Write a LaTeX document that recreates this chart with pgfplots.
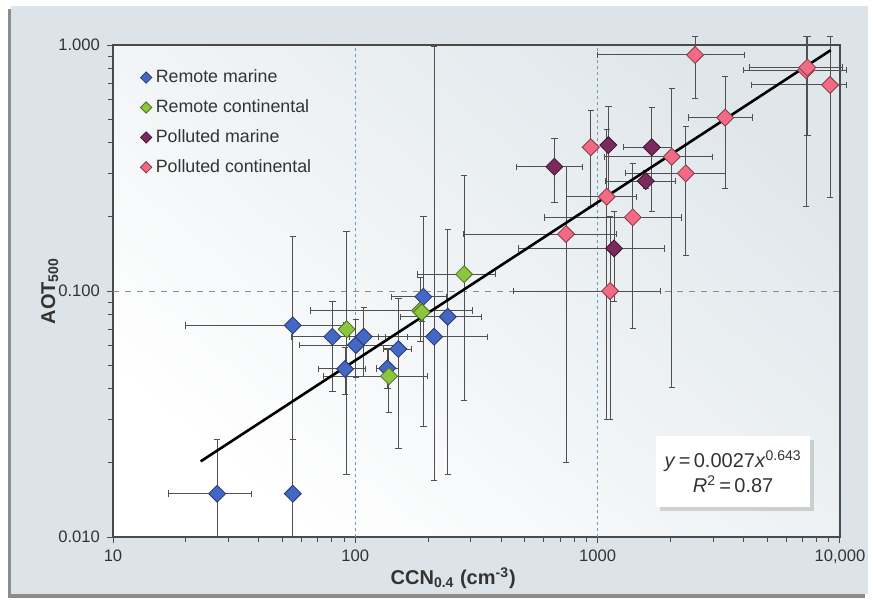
\documentclass[border=0pt]{standalone}
\usepackage{fontspec}
\setmainfont{Liberation Sans}
\usepackage{pgfplots}
\usepackage{pgfplotstable}
\pgfplotsset{compat=1.18}
\usetikzlibrary{shadows}

\definecolor{panel}{HTML}{DCE4E9}
\definecolor{plotbg}{HTML}{E0E7EB}
\definecolor{axisgray}{HTML}{4A4A4A}
\definecolor{textcol}{HTML}{333333}
\definecolor{barcol}{HTML}{505050}
\definecolor{gridblue}{HTML}{6B9BC0}
\definecolor{rmarine}{HTML}{4466C4}
\definecolor{rcont}{HTML}{8CC63F}
\definecolor{pmarine}{HTML}{7A2A5C}
\definecolor{pcont}{HTML}{F26A84}

% x y, then ends of the error bars
\pgfplotstableread{
x     y      xl     xh     yl     yh
26.9  0.015  17.0   37.2   0.01   0.025
55.2  0.015  55.2   55.2   0.01   0.025
55.2  0.0725 20.0   89     0.01   0.167
80.4  0.0652 54.3   163.5  0.039  0.091
90.7  0.0482 70.2   110.4  0.0381 0.0587
100.6 0.0603 59.1   153    0.0444 0.0767
108.3 0.0652 95     125    0.0451 0.0858
135.5 0.0485 122    150    0.040  0.0585
150.5 0.0581 130.5  171    0.023  0.0934
190.9 0.0948 141.3  238    0.0281 0.201
211.3 0.0652 132.6  350.5  0.0169 0.99
240.6 0.0786 153    332    0.0179 0.1787
}\remotemarine

\pgfplotstableread{
x     y      xl     xh     yl     yh
92.1  0.0699 92.1   92.1   0.0179 0.175
137.7 0.0451 73.6   199.5  0.0321 0.058
185   0.0832 65.5   305    0.0622 0.113
188   0.082  180    196    0.075  0.09
281   0.117  180.3  379    0.036  0.296
}\remotecont

\pgfplotstableread{
x     y      xl     xh     yl     yh
662.6 0.32   463.6  864.5  0.229  0.415
1107  0.392  1045   1170   0.24   0.565
1169  0.149  470.7  1885   0.0905 0.21
1579  0.28   1073   2086   0.262  0.31
1672  0.384  1276   2022   0.21   0.558
}\pollmarine

\pgfplotstableread{
x     y      xl     xh     yl     yh
740.6 0.1705 279    1199   0.0201 0.32
936.5 0.384  936.5  936.5  0.22   0.544
1090  0.2417 745.6  1450   0.030  0.454
1125  0.1    448.7  1809   0.030  0.2
1396  0.1993 602.6  2208   0.0705 0.330
2022  0.3515 1063   2974   0.0404 0.667
2310  0.301  1297   3357   0.14   0.4656
2523  0.911  1001   4018   0.607  1.088
3357  0.507  2366   4347   0.2615 0.743
7246  0.79   3991   10670  0.220  1.088
7336  0.81   4214   10270  0.427  1.088
9098  0.688  4325   10670  0.240  1.088
}\pollcont

\pgfplotsset{
  ebars/.style={
    only marks,
    mark=square*,
    mark size=3pt,
    mark options={rotate=45, draw=#1!55!black, line width=0.4pt, fill=#1},
    /pgfplots/error bars/x dir=both,
    /pgfplots/error bars/y dir=both,
    /pgfplots/error bars/x explicit,
    /pgfplots/error bars/y explicit,
    /pgfplots/error bars/error bar style={barcol, line width=0.5pt},
    /pgfplots/error bars/error mark options={rotate=90, barcol, mark size=1.6pt, line width=0.5pt},
  },
  /pgfplots/table/errtab/.style={x=x, y=y,
    x error plus expr=\thisrow{xh}-\thisrow{x},
    x error minus expr=\thisrow{x}-\thisrow{xl},
    y error plus expr=\thisrow{yh}-\thisrow{y},
    y error minus expr=\thisrow{y}-\thisrow{yl}},
}

\begin{document}
\begin{tikzpicture}[x=1pt,y=1pt]
\useasboundingbox (-56.5,-32.5) rectangle (380,268.5);
\fill[black!45] (-52.5,-30.5) rectangle (376,264);
\fill[panel] (-51,-28.5) rectangle (377.5,265.5);
\begin{axis}[
  at={(0,0)}, anchor=south west, scale only axis,
  width=363.5pt, height=246pt,
  xmode=log, ymode=log,
  xmin=10, xmax=10000, ymin=0.01, ymax=1,
  clip=false,
  axis background/.style={bottom color=white, top color=plotbg, shading angle=-40},
  xtick={10,100,1000,10000},
  xticklabels={10,100,1000,{10,000}},
  ytick={0.01,0.1,1},
  yticklabels={0.010,0.100,1.000},
  /pgf/number format/assume math mode=true,
  tick align=outside, tick pos=left,
  major tick length=3pt, minor tick length=2.5pt,
  every tick/.style={axisgray, line width=0.5pt},
  axis line style={axisgray, line width=0.7pt},
  ticklabel style={font=\fontsize{8.3}{10}\selectfont, text=textcol},
  label style={font=\fontsize{10}{12}\selectfont\bfseries, text=textcol},
  xlabel={CCN\textsubscript{0.4} (cm\textsuperscript{-3})},
  ylabel={AOT\textsubscript{500}},
  xlabel style={at={(axis description cs:0.468,-0.083)}, anchor=center},
  ylabel style={at={(axis description cs:-0.087,0.5)}, anchor=center},
  legend style={draw=none, fill=none, at={(0.029,0.967)}, anchor=north west,
    font=\fontsize{8.9}{10.5}\selectfont, text=textcol, row sep=3pt},
  legend cell align=left,
  legend image code/.code={\draw[mark repeat=2,mark phase=2,#1,mark size=2pt]
    plot coordinates {(0cm,0cm) (0.15cm,0cm) (0.36cm,0cm)};},
]
\draw[dash pattern=on 1.5pt off 1.5pt, gridblue, line width=0.5pt] (axis cs:100,0.01) -- (axis cs:100,1);
\draw[dash pattern=on 1.5pt off 1.5pt, gridblue, line width=0.5pt] (axis cs:1000,0.01) -- (axis cs:1000,1);
\draw[dashed, black!45, line width=0.5pt] (axis cs:10,0.1) -- (axis cs:10000,0.1);

\addplot[ebars=rmarine] table[errtab] {\remotemarine};
\addlegendentry{Remote marine}
\addplot[ebars=rcont] table[errtab] {\remotecont};
\addlegendentry{Remote continental}
\addplot[ebars=pmarine] table[errtab] {\pollmarine};
\addlegendentry{Polluted marine}
\addplot[ebars=pcont] table[errtab] {\pollcont};
\addlegendentry{Polluted continental}

\addplot[black, line width=1.3pt, forget plot] coordinates {(23,0.0203) (9160,0.953)};

\node[fill=white, drop shadow={shadow xshift=2pt, shadow yshift=-2pt, opacity=0.3},
  minimum width=77pt, minimum height=35.5pt, align=center,
  font=\fontsize{10}{12.5}\selectfont, text=textcol]
  at (axis cs:3622,0.01846)
  {\textit{y}\,=\,0.0027\textit{x}\textsuperscript{0.643}\\ \textit{R}\textsuperscript{2}\,=\,0.87};
\end{axis}
\end{tikzpicture}
\end{document}
